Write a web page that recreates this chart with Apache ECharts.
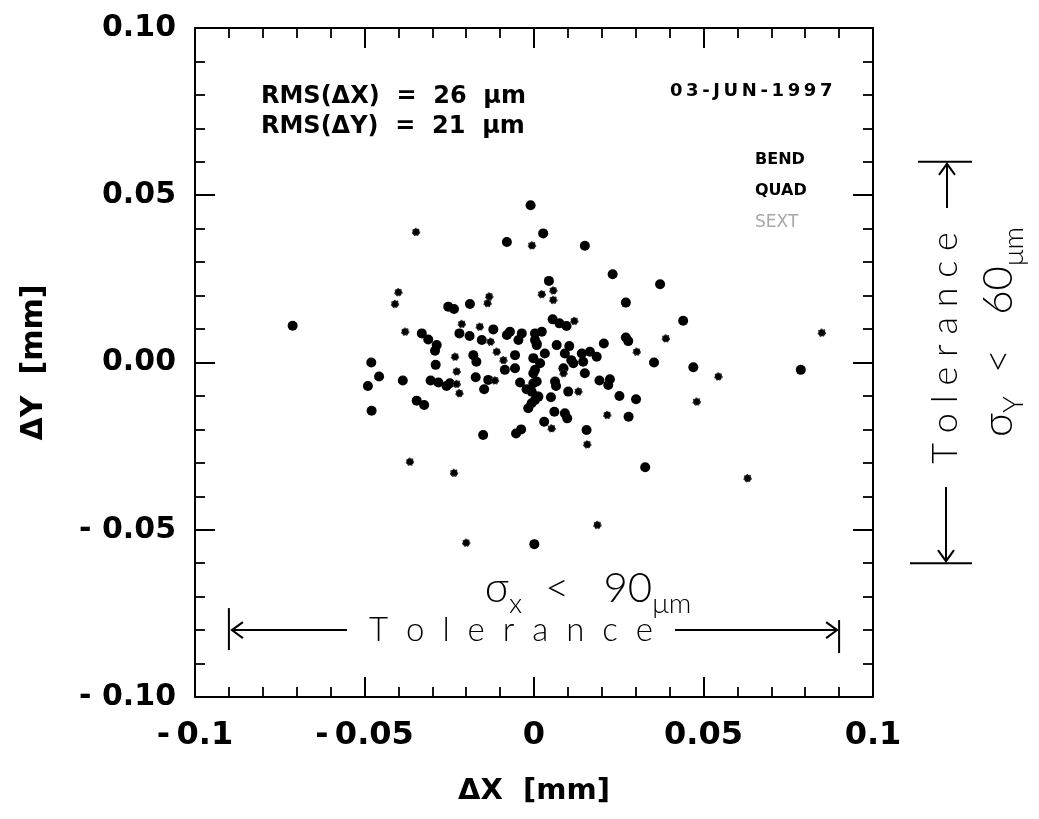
<!DOCTYPE html>
<html><head><meta charset="utf-8">
<script src="https://cdn.jsdelivr.net/npm/echarts@6/dist/echarts.min.js"></script>
<style>html,body{margin:0;padding:0;background:#fff}#c{width:1039px;height:819px}</style>
</head><body><div id="c"></div>
<script>
// ---- data ----
const X_TICK_LABELS = {'-0.1':'-\u20090.1', '-0.05':'-\u20090.05', '0':'0', '0.05':'0.05', '0.1':'0.1'};
const Y_TICK_LABELS = {'0.1':'0.10', '0.05':'0.05', '0':'0.00', '-0.05':'- 0.05', '-0.1':'- 0.10'};
const TOL_X = 0.09;   // mm
const TOL_Y = 0.06;   // mm
const bendPoints = [
  [-0.001,0.047],[-0.008,0.036],[0.0027,0.0386],[0.015,0.0349],[0.0232,0.0264],[0.0372,0.0234],
  [0.0271,0.0179],[0.0044,0.0244],[-0.0253,0.0167],[-0.0236,0.016],[-0.0189,0.0175],[-0.0712,0.011],
  [0.044,0.0125],[-0.0331,0.0087],[-0.0312,0.0069],[-0.0287,0.0052],[-0.0292,0.0035],[-0.022,0.0087],
  [-0.019,0.0079],[-0.0154,0.0067],[-0.012,0.0099],[-0.008,0.0082],[-0.0071,0.0092],[-0.0036,0.0087],
  [-0.0046,0.0067],[0.0003,0.0087],[0.0008,0.0057],[-0.0056,0.0022],[-0.0056,-0.0017],[-0.0086,-0.0022],
  [-0.0179,0.0022],[-0.017,0.0002],[-0.029,-0.0007],[-0.048,0],[-0.0002,0.0013],[0.0003,-0.0022],
  [-0.0457,-0.0042],[-0.049,-0.007],[-0.0387,-0.0054],[-0.0305,-0.0054],[-0.0282,-0.006],[-0.0258,-0.007],
  [-0.0248,-0.0062],[-0.0172,-0.0044],[-0.0135,-0.0052],[-0.0147,-0.008],[-0.0041,-0.006],[-0.0022,-0.008],
  [-0.0002,-0.0062],[0.0008,-0.0102],[-0.0007,-0.0122],[-0.0017,-0.0137],[-0.0346,-0.0114],[-0.0324,-0.0127],
  [-0.0479,-0.0144],[-0.015,-0.0217],[-0.0053,-0.0212],[-0.0038,-0.020],[0.0001,-0.0543]
];
const quadPoints = [
  [0.0055,0.0129],[0.0075,0.0117],[0.0096,0.0109],[0.0023,0.0092],[0.0003,0.0067],[0.0008,0.0052],
  [0.0032,0.0027],[0.0067,0.0052],[0.0104,0.0049],[0.0091,0.0027],[0.011,0.0007],[0.0141,0.0027],
  [0.0165,0.0032],[0.0185,0.0017],[0.0145,0.0002],[0.0206,0.0057],[0.0271,0.0075],[0.0278,0.0064],
  [0.0354,0],[0.047,-0.0014],[0.0787,-0.0022],[0.0018,-0.0002],[-0.0002,-0.0032],[0.0008,-0.0057],
  [-0.0007,-0.0087],[0.0003,-0.0112],[0.0013,-0.0102],[0.0087,-0.0017],[0.0116,-0.0002],[0.015,-0.0032],
  [0.0062,-0.0057],[0.0065,-0.007],[0.0101,-0.0087],[0.005,-0.0104],[0.0193,-0.0054],[0.0224,-0.005],
  [0.0219,-0.0067],[0.0252,-0.01],[0.0301,-0.011],[0.006,-0.0147],[0.0091,-0.0152],[0.0098,-0.0167],
  [0.003,-0.0177],[0.0155,-0.0202],[0.0279,-0.0162],[0.0328,-0.0313]
];
const sextPoints = [
  [-0.0348,0.039],[-0.0006,0.035],[-0.040,0.021],[-0.041,0.0175],[-0.0132,0.0197],[-0.0137,0.0177],
  [0.0023,0.0204],[0.0057,0.0215],[0.0057,0.0187],[-0.038,0.0092],[-0.0213,0.0115],[-0.016,0.0107],
  [-0.0128,0.0062],[-0.011,0.0032],[-0.009,0.0007],[-0.0233,0.0017],[-0.0228,-0.0027],[-0.0228,-0.0064],
  [-0.022,-0.0092],[-0.0115,-0.0054],[-0.0366,-0.0297],[-0.0236,-0.033],[-0.020,-0.0539],[0.0119,0.0124],
  [0.0389,0.0072],[0.0303,0.0032],[0.0544,-0.0042],[0.0087,-0.0032],[0.0131,-0.0087],[0.048,-0.0117],
  [0.0052,-0.0197],[0.0216,-0.0157],[0.0157,-0.0245],[0.063,-0.0346],[0.0187,-0.0486],[0.0849,0.0089]
];

const chart = echarts.init(document.getElementById('c'), null, {renderer:'canvas'});
const FONT = 'DejaVu Sans';
const lab = (map) => (v) => { const k = String(+v.toFixed(4)); return map[k] !== undefined ? map[k] : ''; };
const axisCommon = {
  type:'value', min:-0.1, max:0.1, interval:0.05,
  axisLine:{show:true, onZero:false, lineStyle:{color:'#000', width:2}},
  axisTick:{show:true, inside:true, length:20, lineStyle:{color:'#000', width:2}},
  minorTick:{show:true, splitNumber:5, length:10, lineStyle:{color:'#000', width:1.8}},
  splitLine:{show:false}, minorSplitLine:{show:false}
};
chart.setOption({
  animation:false,
  backgroundColor:'#fff',
  grid:{left:195, top:28, right:166, bottom:122, containLabel:false},
  legend:{
    left:745, top:147, orient:'vertical', itemWidth:0, itemHeight:16, itemGap:15, icon:'none',
    selectedMode:false,
    textStyle:{fontFamily:FONT, fontSize:16, fontWeight:'bold', color:'#000', padding:0},
    data:[{name:'BEND', textStyle:{color:'#000'}},{name:'QUAD', textStyle:{color:'#000'}},
          {name:'SEXT', textStyle:{color:'#a8a8a8', fontWeight:'normal', fontSize:17}}]
  },
  xAxis:[
    Object.assign({}, axisCommon, {position:'bottom', name:'ΔX  [mm]', nameLocation:'middle', nameGap:80,
      nameTextStyle:{fontFamily:FONT, fontSize:29, fontWeight:'bold', color:'#000'},
      axisLabel:{show:true, margin:23, fontFamily:FONT, fontSize:32, fontWeight:'bold', color:'#000', formatter:lab(X_TICK_LABELS)}}),
    Object.assign({}, axisCommon, {position:'top', axisLabel:{show:false}})
  ],
  yAxis:[
    Object.assign({}, axisCommon, {position:'left', name:'ΔY  [mm]', nameLocation:'middle', nameGap:146,
      nameTextStyle:{fontFamily:FONT, fontSize:30, fontWeight:'bold', color:'#000'},
      axisLabel:{show:true, margin:19, fontFamily:FONT, fontSize:30, fontWeight:'bold', color:'#000', formatter:lab(Y_TICK_LABELS)}}),
    Object.assign({}, axisCommon, {position:'right', axisLabel:{show:false}})
  ],
  series:[
    {name:'BEND', type:'scatter', data:bendPoints, symbol:'circle', symbolSize:10, itemStyle:{color:'#000', opacity:1}},
    {name:'QUAD', type:'scatter', data:quadPoints, symbol:'circle', symbolSize:10, itemStyle:{color:'#000', opacity:1}},
    {name:'SEXT', type:'scatter', data:sextPoints, symbol:'circle', symbolSize:7, itemStyle:{color:'#000', opacity:1, borderColor:'#333', borderWidth:1.5, borderType:'dotted'}}
  ]
});

// annotations positioned from data values
const px = (x,y) => chart.convertToPixel({xAxisIndex:0, yAxisIndex:0}, [x,y]);
const HAND = 'Lato';
const pL = px(-TOL_X, -0.08), pR = px(TOL_X, -0.08);
const yT = px(0, TOL_Y)[1], yB = px(0, -TOL_Y)[1];
const ax = 947;
const ln = (x1,y1,x2,y2,w) => ({type:'line', shape:{x1,y1,x2,y2}, style:{stroke:'#000', lineWidth:w||2}, silent:true});
const pl = (pts) => ({type:'polyline', shape:{points:pts}, style:{stroke:'#000', lineWidth:2, fill:null}, silent:true});
const hy = pL[1];
const handRich = {a:{font:'300 42px "'+HAND+'"', fill:'#000', verticalAlign:'bottom'}, s:{font:'300 28px "'+HAND+'"', fill:'#000', verticalAlign:'bottom', padding:[0,0,-9,0]}};
chart.setOption({graphic:[
  {type:'text', left:261, top:85, style:{text:'RMS(ΔX)  =  26  μm', font:'bold 24px "DejaVu Sans"', fill:'#000'}},
  {type:'text', left:261, top:115, style:{text:'RMS(ΔY)  =  21  μm', font:'bold 24px "DejaVu Sans"', fill:'#000'}},
  {type:'text', left:670, top:82, style:{text:'0\u20093\u2009-\u2009J\u2009U\u2009N\u2009-\u20091\u20099\u20099\u20097', font:'bold 18px "DejaVu Sans"', fill:'#000'}},
  // horizontal tolerance
  ln(pL[0], hy-22, pL[0], hy+20), ln(pR[0], hy-10, pR[0], hy+23),
  ln(pL[0]+3, hy, 347, hy), pl([[pL[0]+14,hy-8],[pL[0]+3,hy],[pL[0]+14,hy+8]]),
  ln(675, hy, pR[0]-2, hy), pl([[pR[0]-13,hy-8],[pR[0]-2,hy],[pR[0]-13,hy+8]]),
  {type:'text', x:511, y:hy, style:{text:'T  o  l  e  r  a  n  c  e', font:'300 33px "'+HAND+'"', fill:'#000', align:'center', verticalAlign:'middle'}},
  {type:'text', x:588, y:588, style:{text:'{a|σ}{s|x}{a|  <   90}{s|μm}', align:'center', verticalAlign:'middle', rich:handRich}},
  // vertical tolerance
  ln(918, yT, 972, yT), ln(910, yB, 972, yB),
  ln(ax, yT+2, ax, 208), pl([[ax-8,yT+13],[ax,yT+2],[ax+8,yT+13]]),
  ln(ax-1, 487, ax-1, yB-2), pl([[ax-9,yB-13],[ax-1,yB-2],[ax+7,yB-13]]),
  {type:'text', x:945, y:348, rotation:Math.PI/2, style:{text:'T o l e r a n c e', font:'300 36px "'+HAND+'"', fill:'#000', align:'center', verticalAlign:'middle'}},
  {type:'text', x:998, y:332, rotation:Math.PI/2, style:{text:'{a|σ}{s|Y}{a|  <   60}{s|μm}', align:'center', verticalAlign:'middle', rich:handRich}}
]});
</script></body></html>
